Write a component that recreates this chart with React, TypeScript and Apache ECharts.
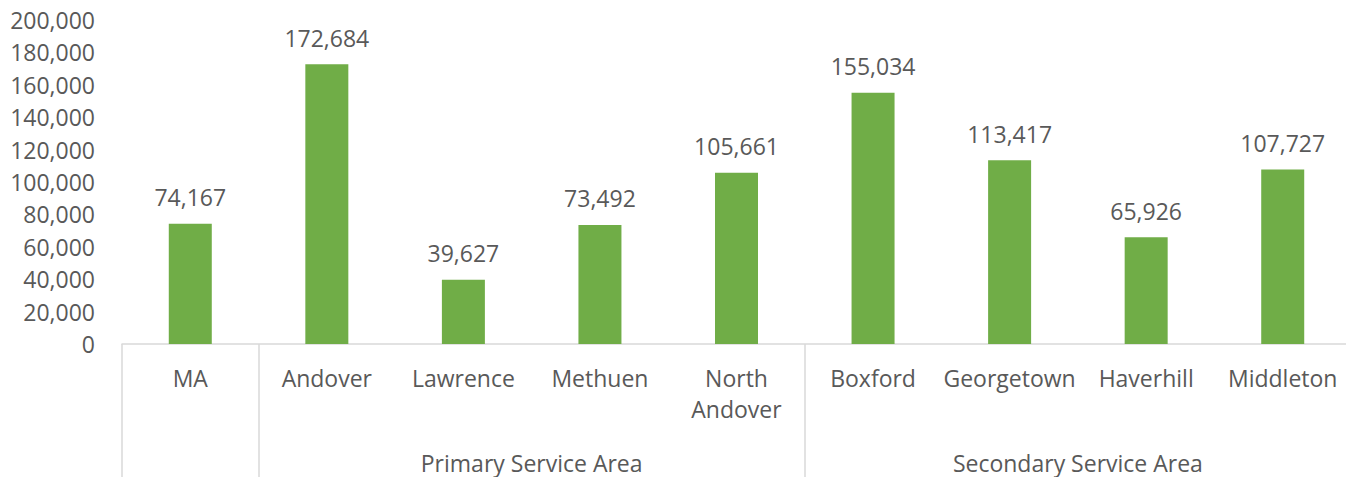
import React, { useEffect, useRef } from "react";
import * as echarts from "echarts";

const categories = ["MA", "Andover", "Lawrence", "Methuen", "North\nAndover", "Boxford", "Georgetown", "Haverhill", "Middleton"];
const values = [74167, 172684, 39627, 73492, 105661, 155034, 113417, 65926, 107727];
const groupBoundaries = [0, 1, 5];
const groupLabels: Record<string, string> = { "3": "Primary Service Area", "7": "Secondary Service Area" };

const FONT = "'Open Sans', sans-serif";
const TEXT = "#595959";
const LINE = "#D9D9D9";
const fmt = (v: number) => Number(v).toLocaleString("en-US");

export default function App() {
  const ref = useRef<HTMLDivElement>(null);
  useEffect(() => {
    if (!ref.current) return;
    const chart = echarts.init(ref.current, null, { renderer: "svg" });
    chart.setOption({
      animation: false,
      textStyle: { fontFamily: FONT },
      grid: { left: 122, top: 20, bottom: 133, width: 1229, outerBoundsMode: "none", containLabel: false },
      xAxis: [
        {
          type: "category",
          data: categories,
          position: "bottom",
          axisLine: { show: true, lineStyle: { color: LINE, width: 1.5 } },
          axisTick: { show: false },
          axisLabel: { fontFamily: FONT, fontSize: 23, color: TEXT, lineHeight: 31, margin: 18, interval: 0 },
        },
        {
          type: "category",
          data: categories,
          position: "bottom",
          axisLine: { show: false },
          axisLabel: { show: false },
          axisTick: {
            show: true,
            length: 133,
            interval: (i: number) => groupBoundaries.includes(i),
            lineStyle: { color: LINE, width: 1.5 },
          },
        },
        {
          type: "value",
          min: 0,
          max: 9,
          interval: 0.5,
          position: "bottom",
          axisLine: { show: false },
          axisTick: { show: false },
          splitLine: { show: false },
          axisLabel: {
            fontFamily: FONT,
            fontSize: 23,
            color: TEXT,
            lineHeight: 31,
            margin: 103,
            showMinLabel: true,
            showMaxLabel: true,
            formatter: (v: number) => groupLabels[String(v)] || "",
          },
        },
      ],
      yAxis: {
        type: "value",
        min: 0,
        max: 200000,
        interval: 20000,
        axisLine: { show: false },
        axisTick: { show: false },
        splitLine: { show: false },
        axisLabel: { fontFamily: FONT, fontSize: 23, color: TEXT, margin: 27, formatter: (v: number) => fmt(v) },
      },
      series: [
        {
          type: "bar",
          xAxisIndex: 0,
          data: values,
          barWidth: 43,
          itemStyle: { color: "#70AD47" },
          label: {
            show: true,
            position: "top",
            distance: 15,
            fontFamily: FONT,
            fontSize: 23,
            color: TEXT,
            formatter: (p: any) => fmt(p.value),
          },
        },
      ],
    });
    return () => chart.dispose();
  }, []);
  return <div ref={ref} style={{ position: "absolute", left: 0, top: 0, width: 1346, height: 477, overflow: "hidden", background: "#fff" }} />;
}
